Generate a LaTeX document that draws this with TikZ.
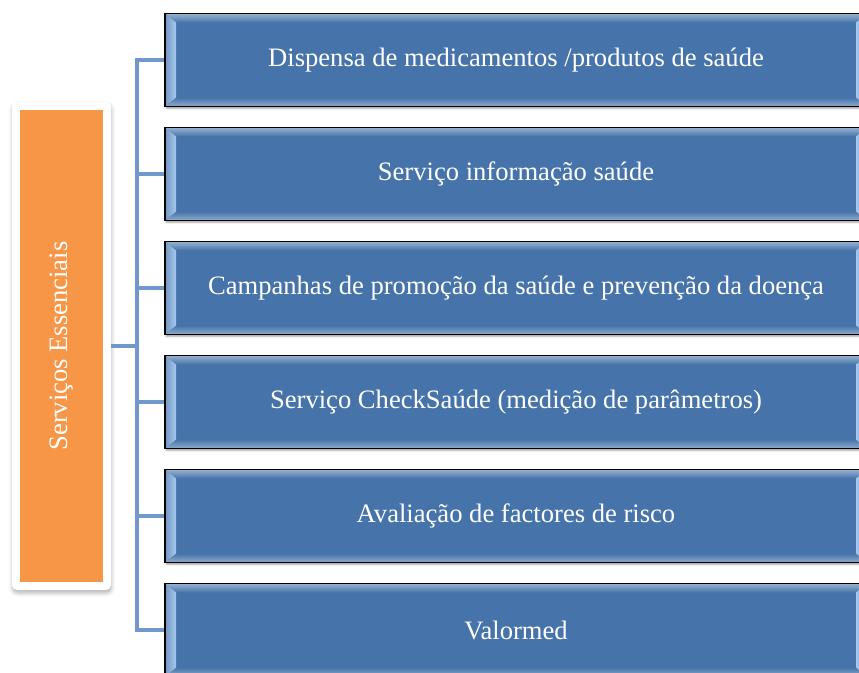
\documentclass[tikz,border=0pt]{standalone}
\usepackage{fontspec}
\setmainfont{Liberation Serif}
\usetikzlibrary{calc}
\usetikzlibrary{shadows.blur}

\definecolor{boxblue}{RGB}{70,116,170}
\definecolor{bevelblue}{RGB}{165,200,240}
\definecolor{rootorange}{RGB}{247,150,70}
\definecolor{linkblue}{RGB}{114,151,204}

\begin{document}
\begin{tikzpicture}[x=1pt, y=-1pt,
        root_style/.style={fill=white, rounded corners=5pt,
            minimum width=99pt, minimum height=488pt, inner sep=0pt,
            blur shadow={shadow xshift=0.5pt, shadow yshift=-3pt, shadow blur radius=4pt,
                shadow opacity=30},
            path picture={
                \fill[rootorange, sharp corners]
                    ($(path picture bounding box.north west)+(8,8)$) rectangle
                    ($(path picture bounding box.south east)+(-8,-8)$);
            }},
        node_style/.style={draw=black, line width=1.4pt, fill=boxblue, text=white,
            minimum width=702pt, minimum height=93pt, inner sep=0pt,
            font=\fontsize{26.6}{30}\selectfont,
            blur shadow={shadow xshift=1pt, shadow yshift=-2pt, shadow blur radius=1.5pt,
                shadow opacity=35},
            path picture={
                \coordinate (bnw) at (path picture bounding box.north west);
                \coordinate (bne) at (path picture bounding box.north east);
                \coordinate (bsw) at (path picture bounding box.south west);
                \coordinate (bse) at (path picture bounding box.south east);
                \shade[top color=boxblue!55!white, bottom color=boxblue]
                    (bnw) -- (bne) -- ($(bne)+(-11,9)$) -- ($(bnw)+(11,9)$) -- cycle;
                \shade[top color=boxblue, bottom color=boxblue!60!white]
                    (bsw) -- (bse) -- ($(bse)+(-11,-9)$) -- ($(bsw)+(11,-9)$) -- cycle;
                \shade[left color=boxblue!75!white, right color=bevelblue]
                    (bnw) -- ($(bnw)+(11,9)$) -- ($(bsw)+(11,-9)$) -- (bsw) -- cycle;
                \shade[left color=bevelblue, right color=boxblue!75!white]
                    (bne) -- ($(bne)+(-11,9)$) -- ($(bse)+(-11,-9)$) -- (bse) -- cycle;
            }},
        edge_style/.style={draw=linkblue, line width=4pt}]

        \useasboundingbox (0,0) rectangle (859,672);
        \clip (0,0) rectangle (859,672);

        \node [root_style](root) at (61.5,346) {};
        \node [rotate=90, text=white, font=\fontsize{26.6}{30}\selectfont] (rootlabel) at (root.center) {Serviços Essenciais};

        \node [node_style](n1) at (516,60) {Dispensa de medicamentos /produtos de saúde};

        \node [node_style](n2) at (516,174) {Serviço informação saúde};

        \node [node_style](n3) at (516,288) {Campanhas de promoção da saúde e prevenção da doença};

        \node [node_style](n4) at (516,402) {Serviço CheckSaúde (medição de parâmetros)};

        \node [node_style](n5) at (516,516) {Avaliação de factores de risco};

        \node [node_style](n6) at (516,630) {Valormed};

        \coordinate (hub) at (137,346);

        \draw [edge_style] (root.east) -- (hub);

        \draw [edge_style] (hub) |- (n1.west);

        \draw [edge_style] (hub) |- (n2.west);

        \draw [edge_style] (hub) |- (n3.west);

        \draw [edge_style] (hub) |- (n4.west);

        \draw [edge_style] (hub) |- (n5.west);

        \draw [edge_style] (hub) |- (n6.west);

        \end{tikzpicture}
\end{document}
